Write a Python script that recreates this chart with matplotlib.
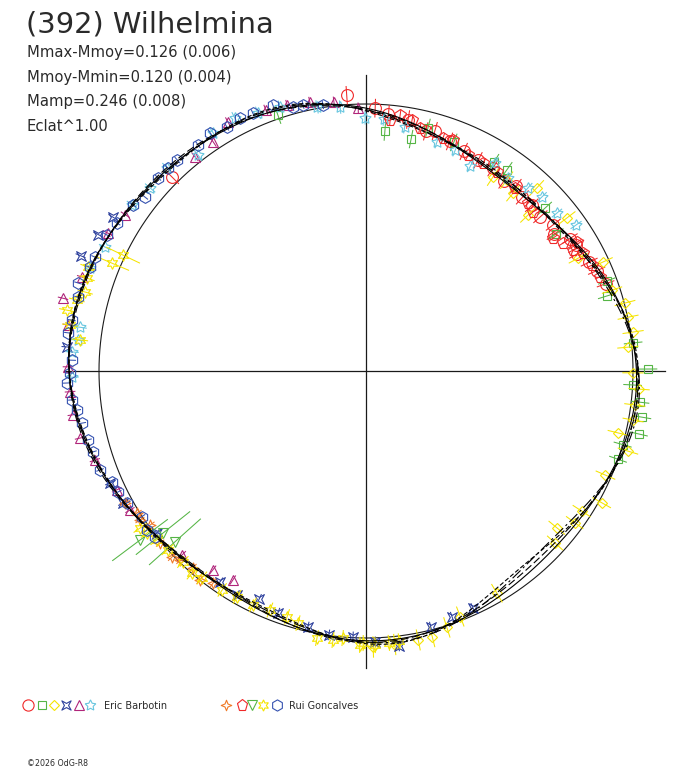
import numpy as np
import matplotlib
matplotlib.use("Agg")
import matplotlib.pyplot as plt
from matplotlib.path import Path
from matplotlib.collections import LineCollection

# ---------------- data (angle in degrees, CCW from +x; radius relative to reference circle) -------------
eric_circle_ang = [94, 88, 85, 80.5, 76, 74, 70, 66, 62, 58, 54, 51, 48, 45, 41.5, 38, 36, 33, 31, 29, 26, 23.5, 20, 135]
eric_circle_rad = [1.035, 0.985, 0.965, 0.955, 0.925, 0.935, 0.915, 0.900, 0.893, 0.895, 0.880, 0.890, 0.875,
                   0.878, 0.872, 0.890, 0.872, 0.910, 0.918, 0.905, 0.930, 0.942, 0.955, 1.026]

eric_square_ang = [109, 85.5, 79, 75.7, 69, 58.5, 55, 42.3, 35.8, 20.5, 17.3, 6, 0.4, 357, 353.5, 350.5, 347, 344, 340.7]
eric_square_rad = [1.014, 0.900, 0.885, 0.940, 0.917, 0.918, 0.920, 0.906, 0.877, 0.963, 0.945, 1.006, 1.056,
                   1.000, 1.033, 1.048, 1.048, 1.000, 1.000]

eric_diamond_ang = [56.8, 53.6, 50.4, 47, 43.9, 37.3, 28, 24.7, 18.2, 14.7, 11.6, 8.3, 5.2, 359.6, 356.2, 352.8,
                    349.6, 346.2, 343, 336.5, 330.8, 327, 324, 320.6, 317.7, 300.5, 291, 287.5, 284, 281, 276, 271.5]
eric_diamond_rad = [0.869, 0.888, 0.865, 0.937, 0.842, 0.946, 0.900, 0.977, 0.970, 1.003, 1.002, 1.011, 0.985,
                    1.000, 1.025, 1.015, 1.017, 0.972, 1.026, 0.978, 1.011, 0.963, 0.966, 0.925, 0.957, 0.966,
                    0.985, 1.007, 1.026, 1.026, 1.030, 1.034]

eric_xsq_ang = [294.3, 289.3, 284.2, 276.8, 272, 267.2, 262, 257.2, 250, 244.9, 240, 235.3, 217.8, 208.5, 203.6,
                175.4, 158, 153, 148.7]
eric_xsq_rad = [0.974, 0.976, 0.989, 1.037, 1.015, 0.997, 0.998, 0.983, 0.964, 0.943, 0.968, 0.961, 0.989, 1.036,
                1.046, 1.124, 1.153, 1.126, 1.109]

eric_tri_ang = [91.7, 96.8, 101.8, 106.5, 111, 119, 123.7, 128.6, 147, 151.9, 161.7, 166.5, 171.2, 179.2, 184,
                188.5, 193.2, 198.2, 205.5, 210.5, 225, 232.4, 237.5]
eric_tri_rad = [0.986, 1.015, 1.029, 1.039, 1.048, 1.066, 1.030, 1.026, 1.075, 1.096, 1.120, 1.167, 1.129, 1.116,
                1.111, 1.110, 1.100, 1.069, 1.034, 1.026, 0.974, 0.940, 0.928]

eric_star_ang = [34.8, 39.6, 44.7, 48.5, 53.7, 58.2, 63, 68, 72.8, 81, 86, 90.2, 95.6, 100.5, 108, 112.7, 117.4,
                 122.7, 127.9, 134.4, 139.7, 144.6, 154.6, 159.5, 171.3, 173.9, 176.3, 181.2]
eric_star_rad = [0.958, 0.928, 0.927, 0.915, 0.897, 0.917, 0.861, 0.892, 0.898, 0.926, 0.946, 0.948, 0.993, 1.006,
                 1.040, 1.048, 1.067, 1.060, 1.025, 1.065, 1.060, 1.074, 1.082, 1.103, 1.083, 1.085, 1.103, 1.101]

rui_4star_ang = [208.7, 211.8, 213.4, 215.5, 219.9, 223.8, 225.5, 228.7, 231.5, 234.2]
rui_4star_rad = [1.029, 1.009, 1.014, 0.993, 1.005, 1.007, 0.993, 0.982, 1.000, 0.979]

rui_pent_ang = [84.5, 82.4, 79.6, 77.5, 71.7, 69.4, 64.7, 60.6, 56.6, 50.8, 46, 43.6, 35.4, 33, 31.4, 30.3, 28.5,
                25.1, 21.9]
rui_pent_rad = [0.944, 0.967, 0.955, 0.932, 0.919, 0.924, 0.895, 0.894, 0.892, 0.884, 0.874, 0.864, 0.860, 0.880,
                0.926, 0.898, 0.925, 0.935, 0.944]

rui_vtri_ang = [216.8, 218.6, 221.8]
rui_vtri_rad = [1.057, 0.973, 0.960]

rui_ystar_ang = [154.5, 157, 159.5, 161.6, 164.3, 166.2, 168.5, 171.2, 173.8, 214.8, 216.5, 218.9, 222, 226.2,
                 229.3, 231.6, 236.7, 240.3, 244.2, 248.1, 252.2, 254.9, 259.6, 263, 265, 268.7, 269.4, 271.9,
                 274.8, 277]
rui_ystar_rad = [1.008, 1.034, 1.112, 1.101, 1.093, 1.115, 1.143, 1.122, 1.077, 1.030, 1.019, 1.007, 1.000, 0.991,
                 0.999, 0.989, 0.981, 0.974, 0.973, 0.965, 0.967, 0.978, 1.017, 1.015, 1.004, 1.026, 1.019, 1.027,
                 1.022, 1.020]

rui_hex_ang = [99.2, 103.3, 105.5, 109.3, 113.7, 116.5, 119.7, 123.2, 126.6, 131.8, 134.3, 137.1, 141.8, 144.5,
               149.3, 152.3, 157.2, 159.4, 163, 165.6, 170.2, 172.7, 177.9, 180.4, 182.3, 185.6, 187.7, 190.4,
               193.9, 196.5, 200.4, 203.6, 206, 208.9, 213, 216, 218.2]
rui_hex_rad = [1.009, 1.024, 1.026, 1.055, 1.055, 1.058, 1.052, 1.066, 1.055, 1.060, 1.062, 1.063, 1.054, 1.071,
               1.085, 1.096, 1.101, 1.105, 1.128, 1.114, 1.118, 1.125, 1.102, 1.109, 1.121, 1.106, 1.092, 1.081,
               1.073, 1.067, 1.063, 1.038, 1.034, 1.022, 1.001, 1.014, 1.006]

# radial uncertainties (relative units)
eric_circle_err = 0.035
eric_square_err = 0.035
eric_diamond_err = 0.04
eric_xsq_err = 0.02
eric_tri_err = 0.02
eric_star_err = 0.025
rui_4star_err = 0.02
rui_pent_err = 0.02
rui_vtri_err = 0.13
rui_ystar_err = [0.07, 0.07] + [0.03] * 28
rui_hex_err = 0.015

fit_orders = [4, 5, 6, 8]

title = "(392) Wilhelmina"
info_lines = ["Mmax-Mmoy=0.126 (0.006)", "Mmoy-Mmin=0.120 (0.004)", "Mamp=0.246 (0.008)", "Eclat^1.00"]
observers = ["Eric Barbotin", "Rui Goncalves"]
copyright_txt = "\u00a92026 OdG-R8"

# ---------------- markers ----------------
xsq_marker = Path([(-1, -1), (0, -0.45), (1, -1), (0.45, 0), (1, 1), (0, 0.45), (-1, 1), (-0.45, 0), (-1, -1)],
                  [Path.MOVETO] + [Path.LINETO] * 7 + [Path.CLOSEPOLY])
star4_marker = Path([(0, 1), (0.28, 0.28), (1, 0), (0.28, -0.28), (0, -1), (-0.28, -0.28), (-1, 0), (-0.28, 0.28), (0, 1)],
                    [Path.MOVETO] + [Path.LINETO] * 7 + [Path.CLOSEPOLY])

RED = '#f02828'
GREEN = '#55b545'
YELLOW = '#f5e400'
BLUE = '#2c3f9c'
MAGENTA = '#b0257a'
CYAN = '#68c6df'
ORANGE = '#f07a28'
RBLUE = '#3552b0'

series = [
    # angles, radii, err, marker, color, size
    (eric_circle_ang, eric_circle_rad, eric_circle_err, 'o', RED, 8.5),
    (eric_square_ang, eric_square_rad, eric_square_err, 's', GREEN, 6.3),
    (eric_diamond_ang, eric_diamond_rad, eric_diamond_err, 'D', YELLOW, 5.6),
    (eric_xsq_ang, eric_xsq_rad, eric_xsq_err, xsq_marker, BLUE, 7.0),
    (eric_tri_ang, eric_tri_rad, eric_tri_err, '^', MAGENTA, 7.0),
    (eric_star_ang, eric_star_rad, eric_star_err, (5, 1, 0), CYAN, 8.5),
    (rui_4star_ang, rui_4star_rad, rui_4star_err, star4_marker, ORANGE, 8.0),
    (rui_pent_ang, rui_pent_rad, rui_pent_err, 'p', RED, 8.5),
    (rui_vtri_ang, rui_vtri_rad, rui_vtri_err, 'v', GREEN, 7.5),
    (rui_ystar_ang, rui_ystar_rad, rui_ystar_err, (6, 1, 0), YELLOW, 8.5),
    (rui_hex_ang, rui_hex_rad, rui_hex_err, 'h', RBLUE, 8.5),
]

# ---------------- figure ----------------
W, H = 688, 768
CX, CY, R_PX = 366.0, 371.0, 267.0
fig = plt.figure(figsize=(W / 100, H / 100), dpi=100)
fig.patch.set_facecolor('white')
ax = fig.add_axes([0, 0, 1, 1])
ax.set_xlim(-CX / R_PX, (W - CX) / R_PX)
ax.set_ylim(-(H - CY) / R_PX, CY / R_PX)
ax.set_axis_off()

# axes cross and reference circle
ax.plot([-1.131, 1.12], [0, 0], color='#1a1a1a', lw=0.9, zorder=1)
ax.plot([0, 0], [-1.112, 1.109], color='#1a1a1a', lw=0.9, zorder=1)
tt = np.linspace(0, 2 * np.pi, 721)
ax.plot(np.cos(tt), np.sin(tt), color='#1a1a1a', lw=0.8, zorder=1)

# Fourier fits of all data
all_ang = np.deg2rad(np.concatenate([np.asarray(s[0], float) for s in series]))
all_rad = np.concatenate([np.asarray(s[1], float) for s in series])


def design(th, n):
    cols = [np.ones_like(th)]
    for k in range(1, n + 1):
        cols += [np.cos(k * th), np.sin(k * th)]
    return np.column_stack(cols)


styles = ['-', (0, (7, 3)), (0, (10, 3, 2, 3)), (0, (4, 2))]
for n, ls in zip(fit_orders, styles):
    coef, *_ = np.linalg.lstsq(design(all_ang, n), all_rad, rcond=None)
    rr = design(tt, n) @ coef
    ax.plot(rr * np.cos(tt), rr * np.sin(tt), color='black', lw=0.8, ls=ls, zorder=4)

# data points with radial error bars
for ang, rad, err, mk, col, ms in series:
    th = np.deg2rad(np.asarray(ang, float))
    r = np.asarray(rad, float)
    e = np.broadcast_to(np.asarray(err, float), r.shape)
    segs = np.stack([np.column_stack([(r - e) * np.cos(th), (r - e) * np.sin(th)]),
                     np.column_stack([(r + e) * np.cos(th), (r + e) * np.sin(th)])], axis=1)
    ax.add_collection(LineCollection(segs, colors=col, linewidths=0.75, zorder=3))
    ax.plot(r * np.cos(th), r * np.sin(th), ls='none', marker=mk, mfc='none', mec=col, ms=ms, mew=0.8, zorder=3)

# ---------------- texts and legend (pixel-space overlay) ----------------
pix = fig.add_axes([0, 0, 1, 1], facecolor='none')
pix.set_xlim(0, W)
pix.set_ylim(H, 0)
pix.set_axis_off()

TXT = '#2a2a2a'
pix.text(26, 32, title, fontsize=20.8, color=TXT, va='baseline', ha='left')
for i, line in enumerate(info_lines):
    pix.text(27, 57 + 24.6 * i, line, fontsize=10.6, color=TXT, va='baseline', ha='left')

leg_y = 704.5
eric_leg_x = [27.5, 41.5, 53.5, 66.3, 78.8, 90.3]
rui_leg_x = [225.8, 241.7, 251.7, 263.3, 276.7]
for x, s in zip(eric_leg_x, series[:6]):
    pix.plot([x], [leg_y], ls='none', marker=s[3], mfc='none', mec=s[4], ms=s[5] * 0.95, mew=0.8)
for x, s in zip(rui_leg_x, series[6:]):
    pix.plot([x], [leg_y], ls='none', marker=s[3], mfc='none', mec=s[4], ms=s[5] * 0.95, mew=0.8)
pix.text(104, 709, observers[0], fontsize=7, color=TXT, va='baseline', ha='left')
pix.text(289, 709, observers[1], fontsize=7, color=TXT, va='baseline', ha='left')
pix.text(27, 766, copyright_txt, fontsize=5.7, color=TXT, va='baseline', ha='left')

fig.savefig('out.png', dpi=100, facecolor='white')
